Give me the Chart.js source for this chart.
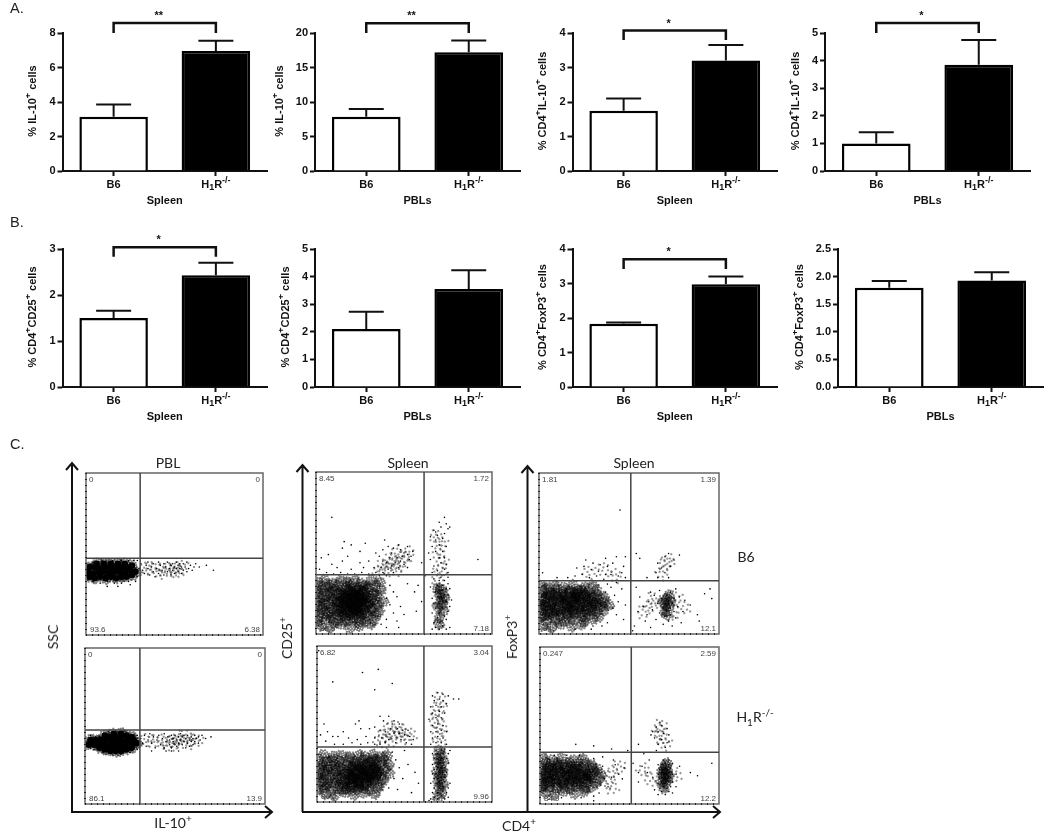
<!DOCTYPE html>
<html>
<head>
<meta charset="utf-8">
<script src="https://cdn.jsdelivr.net/npm/chart.js@4"></script>
<style>
  html, body { margin: 0; padding: 0; background: #fff; }
  body { position: relative; width: 1050px; height: 833px; overflow: hidden; }
  canvas { position: absolute; filter: blur(0.35px); }
  svg { position: absolute; left: 0; top: 0; filter: blur(0.3px); }
  .lbl { position: absolute; color: #222; font: 14px Lato, sans-serif; line-height: 16px; white-space: nowrap; transform: translate(-50%, -50%); filter: blur(0.25px); }
  .lbl sup, .lbl sub { font-size: 10px; line-height: 0; }
  .rot { transform: translate(-50%, -50%) rotate(-90deg); }
  .sec { position: absolute; color: #222; font: 14.5px "Liberation Sans", Arial, sans-serif; filter: blur(0.25px); }
</style>
</head>
<body>
<svg width="1050" height="833">
  <g fill="none" stroke="#111" stroke-width="2">
    <path d="M72 812V465M66 470L72 463L78 470"/>
    <path d="M71 812H271M265 806L272 812L265 818"/>
    <path d="M302.5 812V467M296.500 472L302.500 465L308.500 472"/>
    <path d="M302 812H719M713 806L720 812L713 818"/>
    <path d="M527.500 812V468M521.500 473L527.500 466L533.500 473"/>
  </g>
</svg>
<div class="sec" style="left:10px;top:0px">A.</div>
<div class="sec" style="left:10px;top:214px">B.</div>
<div class="sec" style="left:10px;top:436px">C.</div>
<div class="lbl" style="left:168px;top:463px">PBL</div>
<div class="lbl" style="left:408px;top:463px">Spleen</div>
<div class="lbl" style="left:634px;top:463px">Spleen</div>
<div class="lbl rot" style="left:53px;top:637px">SSC</div>
<div class="lbl rot" style="left:287px;top:638px">CD25<sup>+</sup></div>
<div class="lbl rot" style="left:512px;top:637px">FoxP3<sup>+</sup></div>
<div class="lbl" style="left:173px;top:823px">IL-10<sup>+</sup></div>
<div class="lbl" style="left:519px;top:826px">CD4<sup>+</sup></div>
<div class="lbl" style="left:746px;top:557px">B6</div>
<div class="lbl" style="left:755px;top:717px">H<sub>1</sub>R<sup>-/-</sup></div>

<script>
// Bar panels
const groups = ['B6', 'H₁R⁻/⁻'];
const il10SpleenMeans = [3.15, 6.95];
const il10SpleenTops = [3.85, 7.55];
const il10PblMeans = [7.85, 17.2];
const il10PblTops = [9.0, 18.9];
const cd4Il10SpleenMeans = [1.75, 3.2];
const cd4Il10SpleenTops = [2.1, 3.65];
const cd4Il10PblMeans = [1.0, 3.85];
const cd4Il10PblTops = [1.4, 4.75];
const cd25SpleenMeans = [1.5, 2.43];
const cd25SpleenTops = [1.66, 2.7];
const cd25PblMeans = [2.1, 3.55];
const cd25PblTops = [2.73, 4.23];
const foxp3SpleenMeans = [1.83, 2.98];
const foxp3SpleenTops = [1.87, 3.2];
const foxp3PblMeans = [1.8, 1.93];
const foxp3PblTops = [1.92, 2.08];

// Flow panels: x and y are percent of the plot box
// Dense and Core lists mark tight clumps of events, Loose lists thin clumps, Sparse lists single events
const pblTopDense = [[2,36],[5,35],[8,36],[11,35],[14,36],[17,35],[20,36],[23,36],[26,37],[1,39],[4,38],[7,39],[10,39],[13,38],[16,39],[19,39],[22,38],[25,40],[28,39],[2,42],[5,42],[8,41],[11,42],[14,41],[17,42],[20,42],[23,41],[26,43],[6,44],[10,44],[14,44],[18,44],[22,44]];
const pblTopCore = [];
const pblTopLoose = [[34,41],[37,41],[41,39],[44,41],[47,40],[50,41],[52,39],[54,42]];
const pblTopSparse = [[31,44],[32,40],[33,38],[34,43],[35,41],[35,45],[36,37],[37,42],[38,39],[38,44],[39,36],[40,41],[41,45],[41,38],[42,43],[43,40],[44,37],[44,44],[45,42],[46,39],[46,45],[47,41],[48,37],[48,43],[49,44],[49,40],[50,38],[50,42],[51,45],[51,41],[52,43],[52,39],[53,41],[53,44],[54,42],[54,38],[55,44],[55,40],[56,42],[57,45],[57,39],[58,41],[59,43],[60,40],[61,42],[62,44],[64,42],[68,43],[72,40],[29,36],[30,41],[31,37],[29,46],[28,33],[24,33],[20,32],[16,32],[12,33],[8,32],[4,33],[1,34],[0,37],[0,41],[12,30],[18,30],[25,31],[27,46],[24,46],[20,46],[15,46],[9,46],[4,45]];
const pblBottomDense = [[8,36],[11,35],[14,34],[17,34],[20,34],[23,35],[26,36],[2,38],[5,38],[8,39],[11,38],[14,37],[17,37],[20,37],[23,38],[26,38],[29,39],[3,41],[6,41],[9,41],[12,41],[15,40],[18,40],[21,40],[24,41],[27,41],[11,44],[14,43],[17,43],[20,43],[23,44],[26,43],[16,45],[20,45]];
const pblBottomCore = [];
const pblBottomLoose = [[34,41],[38,40],[42,40],[46,40],[48,38],[50,40],[52,42],[54,40],[56,43],[58,40],[62,41]];
const pblBottomSparse = [[31,42],[32,39],[33,44],[34,37],[35,41],[36,45],[37,39],[38,43],[39,36],[40,41],[41,44],[42,38],[43,42],[44,36],[44,45],[45,40],[46,43],[47,38],[47,41],[48,44],[48,36],[49,40],[49,42],[50,38],[50,44],[51,41],[51,37],[52,43],[52,39],[53,45],[53,41],[54,38],[54,43],[55,40],[55,44],[56,36],[56,42],[57,39],[57,44],[58,41],[58,37],[59,43],[59,40],[60,42],[60,38],[61,44],[61,40],[62,42],[63,39],[63,43],[64,41],[65,44],[67,42],[70,43],[48,34],[52,34],[30,36],[29,44],[1,37],[0,40],[0,43],[3,36],[5,35],[6,43],[3,44],[8,43],[10,33],[15,32],[20,32],[25,33],[29,35],[45,34],[37,34]];
const cd25TopDense = [[3,5],[8,4],[14,6],[19,4],[25,5],[31,6],[1,8],[5,9],[10,7],[13,9],[17,8],[21,9],[24,7],[28,8],[33,9],[2,11],[6,12],[9,10],[12,12],[16,11],[19,12],[22,10],[26,12],[29,11],[34,12],[0,14],[4,15],[7,13],[11,15],[14,14],[17,15],[20,13],[23,15],[25,14],[28,13],[31,15],[36,14],[2,17],[5,18],[9,16],[12,18],[15,17],[18,18],[21,16],[23,18],[26,17],[29,18],[32,16],[35,18],[1,20],[4,21],[7,19],[10,21],[13,20],[16,21],[19,19],[21,21],[24,20],[27,21],[30,19],[33,21],[38,20],[2,23],[6,24],[9,22],[12,24],[15,23],[17,24],[20,22],[22,24],[25,23],[28,24],[31,22],[35,24],[1,26],[4,27],[8,25],[11,27],[14,26],[18,27],[21,25],[24,27],[26,26],[29,27],[33,25],[37,27],[3,29],[7,30],[10,28],[13,30],[17,29],[20,30],[23,28],[27,30],[30,29],[34,30],[1,32],[5,33],[9,31],[14,33],[18,32],[22,33],[26,31],[31,33],[36,32]];
const cd25TopCore = [[15,12],[18,14],[21,12],[24,13],[27,15],[13,16],[16,18],[19,16],[22,15],[25,17],[28,19],[14,20],[17,22],[20,19],[23,18],[26,21],[29,23],[15,24],[18,25],[21,22],[24,24],[27,26],[19,27],[23,27],[20,17],[22,21],[25,20],[18,20],[21,25],[24,22],[70,10],[72,14],[69,17],[71,20],[73,22],[70,24],[72,25],[71,28],[69,28],[72,18],[70,6]];
const cd25TopLoose = [[36,38],[38,42],[40,40],[42,46],[44,44],[46,40],[46,50],[48,43],[50,47],[52,50],[69,35],[71,40],[72,45],[70,50],[71,56],[68,60]];
const cd25TopSparse = [[36,36],[38,38],[40,36],[34,38],[30,37],[26,38],[22,37],[18,37],[14,38],[10,37],[6,38],[2,40],[12,41],[20,40],[27,41],[33,41],[37,41],[41,40],[44,38],[43,42],[47,41],[40,44],[45,44],[48,45],[50,43],[52,41],[53,46],[49,48],[46,47],[42,47],[38,45],[36,48],[34,50],[43,50],[48,52],[50,50],[52,49],[54,48],[55,51],[47,55],[44,53],[41,54],[39,58],[52,54],[38,52],[30,45],[25,44],[18,48],[15,45],[9,43],[7,49],[3,47],[15,53],[20,55],[25,51],[16,57],[9,72],[28,56],[42,30],[44,26],[40,22],[46,23],[42,18],[48,17],[44,13],[50,12],[40,9],[46,8],[52,31],[56,26],[58,30],[40,4],[47,4],[60,20],[57,14],[37,6],[62,36],[60,44],[66,3],[68,4],[70,3],[72,5],[74,3],[76,4],[67,7],[71,8],[74,9],[69,10],[73,11],[66,13],[70,13],[75,14],[68,16],[72,16],[76,17],[67,19],[70,19],[72,20],[74,20],[77,21],[66,22],[69,23],[71,23],[73,24],[75,24],[68,26],[70,27],[72,27],[74,28],[76,28],[65,29],[69,30],[72,30],[75,31],[70,33],[73,33],[67,34],[71,35],[75,35],[66,38],[69,39],[73,40],[75,38],[67,42],[71,44],[74,43],[65,46],[70,47],[73,47],[64,50],[68,51],[72,51],[66,54],[70,55],[74,54],[68,58],[72,59],[65,60],[69,61],[73,62],[68,63],[67,64],[71,66],[75,65],[74,68],[76,66],[70,69],[73,72],[92,46]];
const cd25BottomDense = [[5,5],[10,4],[16,6],[21,5],[27,6],[33,5],[1,8],[4,9],[8,8],[12,9],[15,8],[19,9],[23,8],[26,9],[30,8],[35,9],[2,12],[6,11],[10,12],[13,11],[17,12],[20,11],[24,12],[28,11],[31,12],[36,11],[0,15],[4,14],[7,15],[11,14],[14,15],[18,14],[21,15],[24,14],[27,15],[30,14],[33,15],[38,14],[2,18],[5,17],[9,18],[12,17],[16,18],[19,17],[22,18],[25,17],[28,18],[31,17],[34,18],[37,17],[41,18],[1,21],[4,20],[7,21],[11,20],[14,21],[17,20],[20,21],[23,20],[26,21],[29,20],[32,21],[35,20],[39,21],[3,24],[6,23],[10,24],[13,23],[17,24],[21,23],[24,24],[27,23],[30,24],[33,23],[37,24],[41,24],[1,27],[5,26],[9,27],[13,26],[18,27],[22,26],[26,27],[30,26],[34,27],[38,27],[4,30],[9,29],[14,30],[19,29],[24,30],[28,29],[32,30],[36,29],[40,30]];
const cd25BottomCore = [[17,9],[20,11],[24,10],[28,12],[32,14],[16,14],[19,15],[23,14],[27,16],[31,18],[35,20],[18,18],[22,19],[25,18],[29,20],[33,22],[20,22],[24,23],[28,24],[32,26],[23,12],[26,20],[30,16],[21,16],[34,17],[69,3],[71,6],[70,9],[72,11],[69,13],[71,15],[70,17],[72,19],[69,20],[71,22],[70,25],[72,26],[69,28],[71,30],[70,33]];
const cd25BottomLoose = [[36,39],[38,42],[40,46],[42,39],[44,44],[46,48],[48,45],[50,41],[53,43],[70,38],[69,44],[71,48],[68,52],[69,56],[70,60],[70,66]];
const cd25BottomSparse = [[43,32],[45,27],[42,21],[47,22],[44,15],[49,15],[41,9],[46,8],[52,24],[56,19],[58,12],[54,6],[50,33],[36,37],[39,38],[33,37],[29,38],[25,37],[20,38],[15,37],[10,37],[5,39],[2,43],[12,42],[18,41],[23,40],[28,42],[33,41],[37,41],[41,40],[45,38],[48,40],[51,38],[54,37],[44,44],[47,44],[50,43],[53,42],[55,40],[39,45],[42,47],[46,47],[49,46],[52,46],[36,46],[33,48],[40,50],[43,50],[47,50],[44,52],[38,52],[41,55],[36,55],[30,47],[25,47],[22,50],[15,45],[4,50],[9,42],[6,45],[24,52],[9,77],[33,72],[35,85],[43,76],[26,83],[65,2],[67,3],[69,2],[71,4],[73,2],[75,3],[66,6],[69,6],[72,7],[74,6],[67,9],[70,9],[72,10],[75,9],[65,12],[68,12],[70,13],[73,13],[76,12],[67,15],[69,15],[71,16],[73,16],[66,18],[68,18],[70,19],[72,19],[74,19],[67,21],[69,22],[71,22],[73,22],[66,24],[68,25],[70,25],[72,25],[75,25],[67,28],[69,28],[71,28],[74,28],[66,31],[69,31],[72,31],[75,31],[68,33],[71,34],[73,34],[76,33],[65,37],[68,38],[71,38],[74,37],[66,41],[69,42],[72,41],[65,45],[68,45],[71,46],[74,45],[66,49],[69,50],[72,49],[64,53],[68,54],[71,54],[66,57],[70,58],[73,57],[65,61],[68,62],[71,61],[74,63],[67,65],[70,66],[72,65],[66,68],[69,70],[72,69],[75,68],[78,66],[81,66],[64,1],[1,97]];
const foxTopDense = [[2,5],[7,4],[12,6],[18,5],[24,6],[4,8],[9,9],[14,8],[19,9],[25,8],[30,9],[1,11],[5,12],[8,11],[12,12],[16,11],[20,12],[24,11],[28,12],[33,11],[2,15],[5,14],[9,15],[12,14],[16,15],[19,14],[22,15],[26,14],[29,15],[32,14],[36,15],[1,18],[4,17],[7,18],[10,17],[14,18],[17,17],[20,18],[23,17],[26,18],[29,17],[32,18],[35,17],[39,18],[2,21],[5,20],[8,21],[12,20],[15,21],[18,20],[21,21],[24,20],[27,21],[30,20],[33,21],[36,20],[1,24],[4,23],[7,24],[11,23],[14,24],[17,23],[20,24],[23,23],[26,24],[29,23],[32,24],[36,23],[3,27],[6,26],[10,27],[13,26],[17,27],[20,26],[24,27],[28,26],[32,27],[1,30],[5,29],[9,30],[14,29],[19,30],[25,29],[30,30]];
const foxTopCore = [[3,12],[7,13],[11,15],[15,13],[19,15],[23,14],[27,16],[3,18],[7,19],[11,21],[15,19],[19,21],[23,20],[27,22],[31,19],[5,24],[9,25],[13,23],[17,25],[21,24],[25,25],[20,23],[22,27],[16,17],[70,14],[72,17],[69,20],[71,22],[73,20],[70,18],[72,24],[71,12]];
const foxTopLoose = [[28,38],[36,40],[42,36],[58,14],[62,18],[64,22],[74,12],[76,22],[80,16],[68,38],[70,44],[72,46]];
const foxTopSparse = [[37,26],[40,29],[42,24],[38,31],[44,20],[46,28],[41,16],[43,12],[48,18],[47,9],[38,7],[35,5],[30,5],[29,3],[20,3],[8,2],[43,32],[36,34],[32,36],[28,35],[24,37],[20,36],[16,35],[10,35],[2,38],[21,41],[25,42],[29,40],[33,39],[37,37],[40,37],[44,36],[46,38],[48,35],[26,46],[30,44],[34,43],[38,42],[41,44],[37,47],[43,48],[48,48],[47,42],[45,77],[54,50],[72,50],[66,44],[70,48],[75,46],[68,41],[73,42],[78,49],[65,38],[70,38],[66,35],[72,35],[60,35],[56,47],[59,8],[60,12],[58,17],[61,20],[63,15],[64,24],[62,26],[65,9],[66,19],[67,13],[67,27],[68,22],[69,6],[69,16],[70,11],[70,19],[71,15],[71,24],[72,8],[72,21],[72,18],[73,12],[73,16],[73,26],[74,19],[74,5],[75,14],[75,22],[76,10],[76,28],[77,17],[78,23],[79,7],[80,14],[81,21],[84,18],[88,12],[92,25],[95,28],[96,22],[89,8],[54,29],[56,23],[55,14],[53,5],[62,4],[52,2]];
const foxBottomDense = [[3,7],[8,6],[13,8],[19,7],[25,8],[1,10],[5,11],[9,10],[13,11],[17,10],[21,11],[25,10],[29,11],[2,13],[6,14],[9,13],[13,14],[16,13],[20,14],[23,13],[27,14],[31,13],[1,16],[4,17],[7,16],[11,17],[14,16],[17,17],[20,16],[23,17],[26,16],[29,17],[33,16],[2,19],[5,20],[8,19],[12,20],[15,19],[18,20],[21,19],[24,20],[27,19],[30,20],[34,19],[1,22],[4,23],[7,22],[10,23],[14,22],[17,23],[20,22],[23,23],[26,22],[29,23],[32,22],[3,26],[6,25],[10,26],[13,25],[17,26],[21,25],[25,26],[29,25],[2,29],[7,28],[12,29],[18,28],[24,29]];
const foxBottomCore = [[2,12],[5,14],[9,15],[13,13],[17,15],[21,14],[25,16],[3,18],[7,19],[11,20],[15,18],[19,20],[23,19],[27,18],[5,23],[10,24],[15,23],[20,24],[69,10],[70,13],[71,15],[69,17],[70,19],[71,21],[69,22],[70,24],[71,26],[72,18],[68,14],[68,20]];
const foxBottomLoose = [[38,14],[40,10],[40,20],[44,24],[58,22],[62,16],[76,18],[70,38],[68,42],[66,46],[67,50]];
const foxBottomSparse = [[35,24],[38,21],[36,16],[40,17],[34,12],[38,11],[33,7],[30,5],[42,25],[44,19],[46,16],[47,23],[41,28],[30,29],[35,30],[8,31],[15,31],[22,31],[5,3],[12,4],[23,4],[30,2],[66,6],[68,8],[70,6],[72,8],[74,7],[67,10],[69,11],[71,10],[73,11],[66,13],[68,14],[70,13],[72,14],[74,14],[67,16],[68,17],[69,16],[70,17],[71,16],[72,17],[73,17],[66,19],[68,20],[69,19],[70,20],[71,19],[72,20],[74,19],[67,22],[69,22],[70,23],[71,22],[73,23],[66,25],[68,25],[70,26],[72,25],[74,26],[69,28],[72,28],[76,19],[78,24],[76,11],[84,20],[88,18],[57,24],[60,20],[55,14],[61,28],[63,17],[64,9],[58,32],[52,26],[55,20],[66,38],[64,42],[68,41],[71,39],[63,46],[66,46],[69,45],[72,44],[65,49],[68,50],[71,48],[67,52],[62,44],[70,36],[65,34],[55,38],[49,34],[96,26],[40,35],[30,37],[20,38]];

// Gates and quadrant labels of the flow panels
const gateXs = [30.6, 30.5, 61.4, 61.1, 51, 51];
const gateYs = [47.4, 47.4, 36.6, 35.3, 33, 33];
const pblTopLabels = ['0', '0', '93.6', '6.38'];
const pblBottomLabels = ['0', '0', '86.1', '13.9'];
const cd25TopLabels = ['8.45', '1.72', '82.6', '7.18'];
const cd25BottomLabels = ['6.82', '3.04', '80.2', '9.96'];
const foxTopLabels = ['1.81', '1.39', '84.7', '12.1'];
const foxBottomLabels = ['0.247', '2.59', '84.9', '12.2'];

const INK = '#111';
const SANS = '"Liberation Sans", Arial, sans-serif';

// draws a label with its sub/superscripts, centred on 0,0 of the current transform
function drawRich(ctx, text) {
  const parts = text.split(/(₁|⁺|⁻\/⁻)/).filter(p => p).map(p => {
    if (p === '₁') return { t: '1', dy: 3 };
    if (p === '⁺') return { t: '+', dy: -4 };
    if (p === '⁻/⁻') return { t: '-/-', dy: -4 };
    return { t: p, dy: 0 };
  });
  let width = 0;
  parts.forEach(p => {
    ctx.font = (p.dy ? 'bold 9px ' : 'bold 11px ') + SANS;
    p.w = ctx.measureText(p.t).width;
    width += p.w;
  });
  let cx = -width / 2;
  ctx.textAlign = 'left';
  ctx.textBaseline = 'middle';
  parts.forEach(p => {
    ctx.font = (p.dy ? 'bold 9px ' : 'bold 11px ') + SANS;
    ctx.fillText(p.t, cx, p.dy);
    cx += p.w;
  });
}

const barExtras = {
  id: 'barExtras',
  afterDatasetsDraw(chart, args, opts) {
    const { ctx, chartArea: a, scales: { x, y } } = chart;
    ctx.save();
    ctx.strokeStyle = INK;
    ctx.fillStyle = INK;
    ctx.lineWidth = 2;
    // error bars, upper arm only
    opts.tops.forEach((top, i) => {
      const px = x.getPixelForValue(i);
      const py = y.getPixelForValue(top);
      ctx.beginPath();
      ctx.moveTo(px, y.getPixelForValue(opts.means[i]));
      ctx.lineTo(px, py);
      ctx.moveTo(px - 17.5, py);
      ctx.lineTo(px + 17.5, py);
      ctx.stroke();
    });
    // significance bracket
    if (opts.stars) {
      const x0 = x.getPixelForValue(0);
      const x1 = x.getPixelForValue(1);
      const yTop = y.getPixelForValue(opts.bracketTop);
      const yEnd = y.getPixelForValue(opts.bracketEnd);
      ctx.lineWidth = 2.5;
      ctx.beginPath();
      ctx.moveTo(x0, yEnd);
      ctx.lineTo(x0, yTop);
      ctx.lineTo(x1, yTop);
      ctx.lineTo(x1, yEnd);
      ctx.stroke();
      ctx.font = 'bold 11px ' + SANS;
      ctx.textAlign = 'center';
      ctx.textBaseline = 'middle';
      ctx.fillText(opts.stars, (x0 + x1) / 2 - 6, yTop - 7);
    }
    // category labels and axis titles, these carry sub/superscripts
    const base = a.bottom;
    groups.forEach((g, i) => {
      ctx.save();
      ctx.translate(x.getPixelForValue(i), base + 14);
      drawRich(ctx, g);
      ctx.restore();
    });
    ctx.save();
    ctx.translate((a.left + a.right) / 2, base + 30);
    drawRich(ctx, opts.xTitle);
    ctx.restore();
    ctx.save();
    ctx.translate(7, (a.top + a.bottom) / 2 - 1);
    ctx.rotate(-Math.PI / 2);
    drawRich(ctx, opts.yTitle);
    ctx.restore();
    ctx.restore();
  }
};

function barChart(cfg) {
  const top = 33;
  const canvas = document.createElement('canvas');
  const left = cfg.titleX - 7;
  const yWidth = cfg.axisX - left;
  canvas.width = yWidth + 208;
  canvas.height = top + 138 + 38;
  canvas.style.left = left + 'px';
  canvas.style.top = (cfg.plotTop - top) + 'px';
  document.body.appendChild(canvas);
  const font = { family: SANS, size: 11, weight: 'bold' };
  new Chart(canvas, {
    type: 'bar',
    data: {
      labels: groups,
      datasets: [{
        data: cfg.means,
        backgroundColor: ['#fff', '#000'],
        borderColor: '#000',
        borderWidth: 2.5,
        borderSkipped: 'bottom',
        categoryPercentage: 1,
        barPercentage: 0.67
      }]
    },
    options: {
      responsive: false,
      animation: false,
      layout: { padding: { top: top, right: 3 } },
      plugins: {
        legend: { display: false },
        tooltip: { enabled: false },
        barExtras: { means: cfg.means, tops: cfg.tops, stars: cfg.stars, bracketTop: cfg.bracketTop, bracketEnd: cfg.bracketEnd, xTitle: cfg.xTitle, yTitle: cfg.yTitle }
      },
      scales: {
        x: {
          afterFit: s => { s.height = 38; },
          grid: { display: true, drawOnChartArea: false, offset: false, tickColor: INK, tickWidth: 2, tickLength: 5 },
          border: { color: INK, width: 2 },
          ticks: { callback: () => '', maxRotation: 0 }
        },
        y: {
          min: 0,
          max: cfg.yMax,
          afterFit: s => { s.width = yWidth; },
          grid: { display: true, drawOnChartArea: false, tickColor: INK, tickWidth: 2, tickLength: 5 },
          border: { color: INK, width: 2 },
          ticks: { color: INK, font: font, padding: 2, stepSize: cfg.yStep, callback: v => cfg.yStep < 1 ? v.toFixed(1) : v }
        }
      }
    },
    plugins: [barExtras]
  });
}

barChart({ titleX: 33, axisX: 62.5, plotTop: 33, means: il10SpleenMeans, tops: il10SpleenTops, yMax: 8, yStep: 2, yTitle: '% IL-10⁺ cells', xTitle: 'Spleen', stars: '**', bracketTop: 8.58, bracketEnd: 8 });
barChart({ titleX: 280, axisX: 315, plotTop: 33, means: il10PblMeans, tops: il10PblTops, yMax: 20, yStep: 5, yTitle: '% IL-10⁺ cells', xTitle: 'PBLs', stars: '**', bracketTop: 21.4, bracketEnd: 20 });
barChart({ titleX: 543, axisX: 572.5, plotTop: 33, means: cd4Il10SpleenMeans, tops: cd4Il10SpleenTops, yMax: 4, yStep: 1, yTitle: '% CD4⁺IL-10⁺ cells', xTitle: 'Spleen', stars: '*', bracketTop: 4.07, bracketEnd: 3.8 });
barChart({ titleX: 796, axisX: 825, plotTop: 33, means: cd4Il10PblMeans, tops: cd4Il10PblTops, yMax: 5, yStep: 1, yTitle: '% CD4⁺IL-10⁺ cells', xTitle: 'PBLs', stars: '*', bracketTop: 5.36, bracketEnd: 5 });
barChart({ titleX: 33, axisX: 62.5, plotTop: 249, means: cd25SpleenMeans, tops: cd25SpleenTops, yMax: 3, yStep: 1, yTitle: '% CD4⁺CD25⁺ cells', xTitle: 'Spleen', stars: '*', bracketTop: 3.04, bracketEnd: 2.83 });
barChart({ titleX: 286, axisX: 315, plotTop: 249, means: cd25PblMeans, tops: cd25PblTops, yMax: 5, yStep: 1, yTitle: '% CD4⁺CD25⁺ cells', xTitle: 'PBLs' });
barChart({ titleX: 543, axisX: 572.5, plotTop: 249, means: foxp3SpleenMeans, tops: foxp3SpleenTops, yMax: 4, yStep: 1, yTitle: '% CD4⁺FoxP3⁺ cells', xTitle: 'Spleen', stars: '*', bracketTop: 3.7, bracketEnd: 3.42 });
barChart({ titleX: 800, axisX: 838, plotTop: 249, means: foxp3PblMeans, tops: foxp3PblTops, yMax: 2.5, yStep: 0.5, yTitle: '% CD4⁺FoxP3⁺ cells', xTitle: 'PBLs' });

const flowExtras = {
  id: 'flowExtras',
  afterDatasetsDraw(chart, args, opts) {
    const { ctx, chartArea: a, scales: { x, y } } = chart;
    ctx.save();
    ctx.strokeStyle = '#666';
    ctx.lineWidth = 1.5;
    ctx.strokeRect(a.left, a.top, a.right - a.left, a.bottom - a.top);
    // instrument axis ticks along the left and bottom edges
    ctx.strokeStyle = '#222';
    ctx.lineWidth = 2;
    ctx.setLineDash([1, 5]);
    ctx.beginPath();
    ctx.moveTo(a.left, a.top);
    ctx.lineTo(a.left, a.bottom);
    ctx.lineTo(a.right, a.bottom);
    ctx.stroke();
    ctx.setLineDash([]);
    ctx.strokeStyle = '#444';
    ctx.lineWidth = 1.5;
    ctx.beginPath();
    ctx.moveTo(x.getPixelForValue(opts.gateX), a.top);
    ctx.lineTo(x.getPixelForValue(opts.gateX), a.bottom);
    ctx.moveTo(a.left, y.getPixelForValue(opts.gateY));
    ctx.lineTo(a.right, y.getPixelForValue(opts.gateY));
    ctx.stroke();
    ctx.fillStyle = '#444';
    ctx.font = '8px ' + SANS;
    ctx.textBaseline = 'middle';
    ctx.textAlign = 'left';
    ctx.fillText(opts.labels[0], a.left + 3, a.top + 7);
    ctx.fillText(opts.labels[2], a.left + 4, a.bottom - 5);
    ctx.textAlign = 'right';
    ctx.fillText(opts.labels[1], a.right - 3, a.top + 7);
    ctx.fillText(opts.labels[3], a.right - 3, a.bottom - 5);
    ctx.restore();
  }
};

// point images: a clump of events, tight for the blobs and thin for the tails
const tightDots = [[-5,-1],[-4,-3],[-4,2],[-3,-5],[-3,0],[-2,3],[-2,-2],[-1,5],[-1,-4],[-1,1],[0,-1],[0,3],[1,-5],[1,-2],[1,2],[2,0],[2,4],[3,-3],[3,2],[4,-1],[4,3],[5,1]];
const looseDots = [[-7,1],[-5,-4],[-3,4],[-2,-1],[-1,-6],[0,2],[2,6],[3,-3],[5,1],[6,-5]];

function clumpImage(dots, size, dotSize) {
  const img = document.createElement('canvas');
  img.width = size;
  img.height = size;
  const c = img.getContext('2d');
  c.fillStyle = '#000';
  dots.forEach(d => c.fillRect(size / 2 + d[0] - dotSize / 2, size / 2 + d[1] - dotSize / 2, dotSize, dotSize));
  return img;
}
const tightClump = clumpImage(tightDots, 14, 1.4);
const looseClump = clumpImage(looseDots, 18, 1.3);

function toPoints(list) {
  return list.map(p => ({ x: p[0], y: p[1] }));
}

function flowChart(box, index, dense, core, loose, sparse, labels, solidRadius) {
  const canvas = document.createElement('canvas');
  canvas.width = box.w + 8;
  canvas.height = box.h + 8;
  canvas.style.left = (box.x - 4) + 'px';
  canvas.style.top = (box.y - 4) + 'px';
  document.body.appendChild(canvas);
  new Chart(canvas, {
    type: 'scatter',
    data: {
      datasets: [
        { data: toPoints(dense), pointRadius: solidRadius, backgroundColor: '#000', borderWidth: 0 },
        { data: toPoints(dense.concat(core)), pointRadius: 5, pointStyle: tightClump, pointRotation: c => c.dataIndex * 67 },
        { data: toPoints(loose), pointRadius: 5, pointStyle: looseClump, pointRotation: c => c.dataIndex * 53 },
        { data: toPoints(sparse), pointRadius: 0.8, backgroundColor: '#000', borderWidth: 0 }
      ]
    },
    options: {
      responsive: false,
      animation: false,
      layout: { padding: 4, autoPadding: false },
      plugins: {
        legend: { display: false },
        tooltip: { enabled: false },
        flowExtras: { gateX: gateXs[index], gateY: gateYs[index], labels: labels }
      },
      scales: {
        x: { display: false, min: 0, max: 100 },
        y: { display: false, min: 0, max: 100 }
      }
    },
    plugins: [flowExtras]
  });
}

flowChart({ x: 86, y: 473, w: 177, h: 162 }, 0, pblTopDense, pblTopCore, pblTopLoose, pblTopSparse, pblTopLabels, 3.2);
flowChart({ x: 85, y: 648, w: 180, h: 156 }, 1, pblBottomDense, pblBottomCore, pblBottomLoose, pblBottomSparse, pblBottomLabels, 3.2);
flowChart({ x: 316, y: 472, w: 176, h: 162 }, 2, cd25TopDense, cd25TopCore, cd25TopLoose, cd25TopSparse, cd25TopLabels, 0);
flowChart({ x: 317, y: 646, w: 175, h: 156 }, 3, cd25BottomDense, cd25BottomCore, cd25BottomLoose, cd25BottomSparse, cd25BottomLabels, 0);
flowChart({ x: 539, y: 473, w: 180, h: 161 }, 4, foxTopDense, foxTopCore, foxTopLoose, foxTopSparse, foxTopLabels, 0);
flowChart({ x: 540, y: 647, w: 179, h: 157 }, 5, foxBottomDense, foxBottomCore, foxBottomLoose, foxBottomSparse, foxBottomLabels, 0);
</script>
</body>
</html>
